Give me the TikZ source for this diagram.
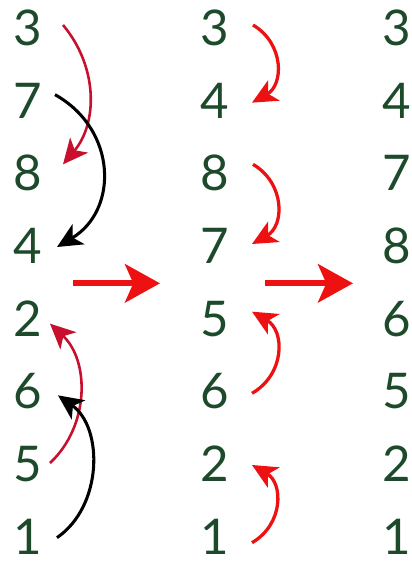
\documentclass[tikz,border=0pt]{standalone}
\usepackage{fontspec}
\setmainfont{Lato}
\usepackage{tikz}
\usetikzlibrary{arrows.meta, positioning}
\usepackage{xcolor}
\definecolor{sgreen}{HTML}{1D4A2B}
\definecolor{sred}{HTML}{C8102E}
\definecolor{sbright}{HTML}{EE1111}
\tikzset{
  num/.style={text=sgreen, inner sep=0pt, font=\fontsize{42}{42}\selectfont},
  swapr/.style={-{Stealth[length=0.75cm, width=0.7cm, inset=0.2cm]}, line width=2.2pt, sred},
  swapk/.style={-{Stealth[length=0.75cm, width=0.7cm, inset=0.2cm]}, line width=2.6pt, black},
  swapb/.style={-{Stealth[length=0.75cm, width=0.7cm, inset=0.2cm]}, line width=2.8pt, sbright},
  pass/.style={-{Stealth[length=1.05cm, width=1.15cm, inset=0.25cm]}, line width=5pt, sbright},
}

\begin{document}
\begin{tikzpicture}
  \useasboundingbox (0,0) rectangle (12.36,-16.89);
  % first pass
  \node[num] (a1) at (0.84,-0.84) {3};
  \node[num] (a2) at (0.84,-3.02) {7};
  \node[num] (a3) at (0.84,-5.20) {8};
  \node[num] (a4) at (0.84,-7.38) {4};
  \node[num] (a5) at (0.84,-9.56) {2};
  \node[num] (a6) at (0.84,-11.74) {6};
  \node[num] (a7) at (0.84,-13.92) {5};
  \node[num] (a8) at (0.84,-16.10) {1};
  % second pass
  \node[num] (b1) at (6.45,-0.84) {3};
  \node[num] (b2) at (6.45,-3.02) {4};
  \node[num] (b3) at (6.45,-5.20) {8};
  \node[num] (b4) at (6.45,-7.38) {7};
  \node[num] (b5) at (6.45,-9.56) {5};
  \node[num] (b6) at (6.45,-11.74) {6};
  \node[num] (b7) at (6.45,-13.92) {2};
  \node[num] (b8) at (6.45,-16.10) {1};
  % result
  \node[num] (c1) at (11.91,-0.84) {3};
  \node[num] (c2) at (11.91,-3.02) {4};
  \node[num] (c3) at (11.91,-5.20) {7};
  \node[num] (c4) at (11.91,-7.38) {8};
  \node[num] (c5) at (11.91,-9.56) {6};
  \node[num] (c6) at (11.91,-11.74) {5};
  \node[num] (c7) at (11.91,-13.92) {2};
  \node[num] (c8) at (11.91,-16.10) {1};

  \draw[swapr] ([shift={(1.05,0.09)}]a1.center) to[bend left=40] ([shift={(1.05,0.27)}]a3.center);
  \draw[swapk] ([shift={(0.81,0.18)}]a2.center) to[bend left=60, looseness=1.2] ([shift={(0.87,-0.03)}]a4.center);
  \draw[swapr] ([shift={(0.66,0.03)}]a7.center) to[bend right=47] ([shift={(0.66,-0.15)}]a5.center);
  \draw[swapk] ([shift={(0.87,-0.03)}]a8.center) to[bend right=55] ([shift={(0.9,-0.12)}]a6.center);

  \draw[swapb] ([shift={(1.14,0.09)}]b1.center) to[bend left=60, looseness=1.2] ([shift={(1.11,-0.06)}]b2.center);
  \draw[swapb] ([shift={(1.14,0.27)}]b3.center) to[bend left=60, looseness=1.2] ([shift={(1.11,0.06)}]b4.center);
  \draw[swapb] ([shift={(1.11,-0.06)}]b6.center) to[bend right=60, looseness=1.2] ([shift={(1.11,0.21)}]b5.center);
  \draw[swapb] ([shift={(1.11,-0.18)}]b8.center) to[bend right=60, looseness=1.2] ([shift={(1.11,-0.03)}]b7.center);

  \coordinate (p1) at (2.19,-8.50);
  \coordinate (q1) at (4.80,-8.50);
  \coordinate (p2) at (7.95,-8.50);
  \coordinate (q2) at (10.59,-8.50);
  \draw[pass] (p1) -- (q1);
  \draw[pass] (p2) -- (q2);
\end{tikzpicture}
\end{document}
